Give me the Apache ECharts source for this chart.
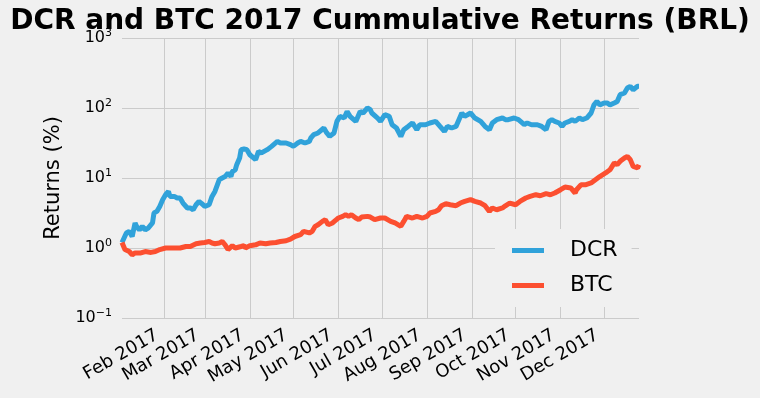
<!DOCTYPE html>
<html>
<head>
<meta charset="utf-8">
<script src="https://cdn.jsdelivr.net/npm/echarts@6/dist/echarts.min.js"></script>
<style>
html,body{margin:0;padding:0;background:#f0f0f0;}
#c{width:760px;height:398px;}
</style>
</head>
<body>
<div id="c"></div>
<script>
// ---- data ----
const firstDay = '2017-01-03';
const lastDay = '2017-12-25';
const monthTicks = ['2017-02-01','2017-03-01','2017-04-01','2017-05-01','2017-06-01','2017-07-01','2017-08-01','2017-09-01','2017-10-01','2017-11-01','2017-12-01'];
const monthNames = ['Jan','Feb','Mar','Apr','May','Jun','Jul','Aug','Sep','Oct','Nov','Dec'];
const yTicks = [0.1, 1, 10, 100, 1000];

// day offsets from firstDay
const dcrDays = [0,3,5,7,9,10,12,14,16,18,21,22,24,26,28,30,32,33,36,38,40,42,45,47,49,51,53,55,57,60,62,64,65,67,69,71,73,75,76,78,79,81,82,84,
  86,88,92,94,96,100,103,107,109,113,116,118,121,123,126,129,130,132,135,139,141,143,146,148,150,153,155,157,161,164,166,169,171,
  172,176,178,181,184,186,189,192,194,197,200,203,205,209,212,216,219,222,224,227,230,232,234,236,240,243,247,250,253,255,258,262,264,
  266,270,273,277,279,282,286,289,292,294,296,298,301,303,305,308,310,312,315,317,320,323,325,327,329,332,334,336,339,341,343,346,348,350,352,355,356];
const dcrValues = [1.2,1.64,1.73,1.46,2.28,2.04,1.82,2.04,1.82,1.93,2.28,3.16,3.33,3.93,4.9,5.77,6.44,5.46,5.46,5.18,5.18,4.39,3.73,3.73,3.52,4.15,4.63,4.3,3.93,4.15,5.46,6.44,6.8,9.46,10,10.5,11.8,10.5,12.4,13.1,15.5,19.3,25.4,26,
  25.4,21.5,18.3,24,22.8,25.4,28.3,33.3,31.6,31.6,29.9,28.3,31.6,33.3,31.6,33.3,37.3,41.6,44,51.8,44,39.3,44,64.4,75.9,71.9,89.4,75.9,64.4,89.4,84.8,100,94.6,
  84.8,71.9,64.4,80.2,75.9,57.7,51.8,39.3,49,54.6,61.1,49,57.7,57.7,61.1,64.4,54.6,46.3,54.6,51.8,54.6,68.1,84.8,75.9,84.8,71.9,64.4,54.6,49,61.1,68.1,71.9,68.1,
  68.1,71.9,68.1,57.7,61.1,57.7,57.7,54.6,49,64.4,68.1,64.4,61.1,54.6,61.1,64.4,68.1,64.4,71.9,68.1,71.9,84.8,111,124,111,118,118,111,118,124,155,164,193,204,182,204,204];

const btcDays = [0,2,5,7,9,13,16,20,23,26,30,33,37,40,44,47,51,54,57,60,62,64,67,69,71,73,76,78,82,84,
  85,88,92,95,99,102,106,109,113,116,119,123,125,129,131,133,135,138,140,142,145,147,149,152,154,156,158,161,163,165,169,171,
  174,178,181,185,188,192,194,196,200,203,207,210,212,216,218,220,223,226,230,233,236,240,243,247,250,253,255,258,262,264,
  267,271,274,278,281,285,288,292,295,298,302,305,309,312,313,316,319,323,326,329,333,336,339,341,343,346,348,350,352,355,356];
const btcValues = [1.2,0.95,0.89,0.80,0.85,0.85,0.89,0.865,0.89,0.95,1.0,1.0,1.0,1.0,1.05,1.05,1.15,1.18,1.2,1.24,1.18,1.15,1.18,1.24,1.11,0.95,1.08,1.0,1.05,1.08,
  1.0,1.08,1.11,1.18,1.15,1.18,1.2,1.24,1.27,1.34,1.46,1.55,1.73,1.64,1.73,2.04,2.15,2.4,2.54,2.15,2.28,2.48,2.68,2.83,2.99,2.83,2.99,2.68,2.54,2.77,2.83,2.77,
  2.54,2.68,2.68,2.4,2.28,2.04,2.4,2.83,2.68,2.83,2.68,2.83,3.16,3.33,3.52,4.02,4.3,4.15,4.02,4.39,4.63,4.9,4.63,4.39,4.02,3.33,3.73,3.52,3.73,4.0,
  4.39,4.15,4.63,5.18,5.46,5.77,5.58,5.97,5.77,6.1,6.8,7.43,7.2,6.1,6.8,8.0,8.0,8.5,9.46,10.5,11.8,13.1,16.4,15.5,17.3,19.3,20.4,18.3,14.6,13.9,15.5];

// ---- build ----
const DAY = 86400000;
const t0 = Date.parse(firstDay + 'T00:00:00Z');
const t1 = Date.parse(lastDay + 'T00:00:00Z');
const tickTimes = monthTicks.map(s => Date.parse(s + 'T00:00:00Z'));
const toPairs = (days, vals) => days.map((d, i) => [t0 + d * DAY, vals[i]]);

const FONT = 'DejaVu Sans';
const chart = echarts.init(document.getElementById('c'), null, {renderer: 'canvas'});
chart.setOption({
  animation: false,
  backgroundColor: '#f0f0f0',
  textStyle: {fontFamily: FONT},
  title: {
    text: 'DCR and BTC 2017 Cummulative Returns (BRL)',
    left: 'center', top: 3,
    textStyle: {fontFamily: FONT, fontSize: 28, fontWeight: 'bold', color: '#000'}
  },
  grid: {left: 122, right: 121, top: 38, bottom: 80, containLabel: false},
  legend: {
    orient: 'vertical', left: 495, top: 229,
    padding: [9, 14, 9, 17],
    backgroundColor: '#f0f0f0',
    itemGap: 10, itemWidth: 32, itemHeight: 5,
    icon: 'rect',
    textStyle: {fontFamily: FONT, fontSize: 22, lineHeight: 25, color: '#000', padding: [0, 0, 0, 21]},
    data: ['DCR', 'BTC']
  },
  xAxis: {
    type: 'value', min: t0, max: t1, scale: true,
    axisLine: {show: false},
    axisTick: {show: false, customValues: tickTimes},
    splitLine: {show: true, lineStyle: {color: '#cbcbcb', width: 1}},
    axisLabel: {
      customValues: tickTimes,
      rotate: 30, margin: 12, hideOverlap: false,
      padding: [0, 8, 0, 0],
      fontFamily: FONT, fontSize: 18, color: '#000',
      formatter: v => monthNames[new Date(v).getUTCMonth()] + ' 2017'
    }
  },
  yAxis: {
    type: 'log', logBase: 10, min: yTicks[0], max: yTicks[yTicks.length - 1],
    name: 'Returns (%)', nameLocation: 'middle', nameGap: 58,
    nameTextStyle: {fontFamily: FONT, fontSize: 21, color: '#000'},
    axisLine: {show: false},
    axisTick: {show: false},
    minorTick: {show: false},
    splitLine: {show: true, lineStyle: {color: '#cbcbcb', width: 1}},
    axisLabel: {
      margin: 10,
      formatter: v => {
        const e = Math.round(Math.log10(v));
        return '{b|10}{s|' + (e < 0 ? '\u2212' + (-e) : e) + '}';
      },
      rich: {
        b: {fontFamily: FONT, fontSize: 16, color: '#000'},
        s: {fontFamily: FONT, fontSize: 11, color: '#000', padding: [0, 0, 9, 0]}
      }
    }
  },
  series: [
    {name: 'DCR', type: 'line', data: toPairs(dcrDays, dcrValues), showSymbol: false, color: '#30a2da',
     lineStyle: {width: 5, color: '#30a2da'}, z: 3},
    {name: 'BTC', type: 'line', data: toPairs(btcDays, btcValues), showSymbol: false, color: '#fc4f30',
     lineStyle: {width: 5, color: '#fc4f30'}, z: 3}
  ]
});
</script>
</body>
</html>
